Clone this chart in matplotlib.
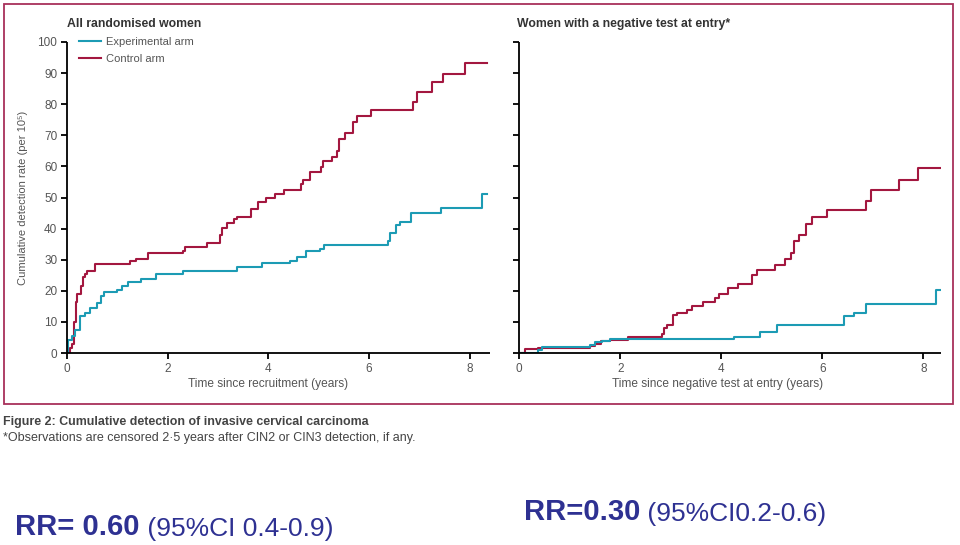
import matplotlib
matplotlib.use('Agg')
import matplotlib.pyplot as plt
from matplotlib.patches import Rectangle

plt.rcParams['font.family'] = ['Liberation Sans', 'DejaVu Sans']

# colours
EXP_COLOR = '#1c9bb4'
CTRL_COLOR = '#a3173f'
BORDER_COLOR = '#a8305a'
TEXT_GRAY = '#555555'
RR_COLOR = '#2e3192'

# ---- data (years, cumulative detection per 10^5) ----
# left panel: all randomised women
all_ctrl_t = [0, 0.06, 0.09, 0.13, 0.17, 0.20, 0.28, 0.32, 0.35, 0.39, 0.56, 1.25, 1.37,
              1.60, 2.31, 2.34, 2.79, 3.04, 3.08, 3.18, 3.31, 3.38, 3.66, 3.80, 3.96, 4.13,
              4.31, 4.64, 4.68, 4.82, 5.05, 5.08, 5.27, 5.36, 5.40, 5.52, 5.68, 5.75, 6.03,
              6.87, 6.95, 7.24, 7.47, 7.90, 8.35]
all_ctrl_v = [0, 1.5, 3, 10, 16.5, 19, 21.5, 24.5, 25.5, 26.5, 28.5, 29.6, 30.2,
              32.0, 32.9, 34.2, 35.3, 37.9, 40.1, 41.7, 43.1, 43.6, 46.2, 48.6, 49.7, 51.1,
              52.4, 54.2, 55.6, 58.1, 59.9, 61.8, 63.1, 65.0, 68.7, 70.6, 74.4, 76.3, 78.1,
              80.8, 83.8, 87.0, 89.6, 93.3, 93.3]
all_exp_t = [0, 0.01, 0.09, 0.15, 0.25, 0.36, 0.46, 0.59, 0.67, 0.74, 0.99, 1.10, 1.22,
             1.47, 1.77, 2.30, 3.38, 3.88, 4.42, 4.56, 4.74, 5.02, 5.10, 6.38, 6.42, 6.54,
             6.61, 6.84, 7.43, 8.24, 8.35]
all_exp_v = [0, 4.2, 5.5, 7.4, 11.9, 13.0, 14.4, 16.0, 18.3, 19.7, 20.3, 21.5, 22.7,
             23.8, 25.3, 26.5, 27.8, 29.0, 29.7, 31.0, 32.9, 33.5, 34.7, 36.0, 38.5, 41.2,
             42.2, 44.9, 46.7, 51.1, 51.1]

# right panel: women with a negative test at entry
neg_ctrl_t = [0, 0.11, 0.38, 1.40, 1.50, 1.61, 1.80, 2.16, 2.82, 2.87, 2.93, 3.05, 3.12,
              3.33, 3.41, 3.63, 3.88, 3.96, 4.14, 4.34, 4.60, 4.71, 5.06, 5.26, 5.37, 5.43,
              5.54, 5.68, 5.79, 6.09, 6.87, 6.96, 7.51, 7.90, 8.34]
neg_ctrl_v = [0, 1.3, 1.5, 2.1, 3.0, 3.7, 4.3, 5.3, 6.0, 8.0, 9.1, 12.3, 12.9,
              13.9, 15.2, 16.5, 17.7, 19.1, 20.9, 22.3, 25.2, 26.6, 28.4, 30.2, 32.3, 35.9,
              38.0, 41.6, 43.7, 46.1, 49.0, 52.3, 55.5, 59.5, 59.5]
neg_exp_t = [0, 0.38, 0.44, 1.40, 1.50, 1.63, 1.80, 4.25, 4.77, 5.11, 6.43, 6.63, 6.86, 8.25, 8.34]
neg_exp_v = [0, 1.1, 2.0, 2.7, 3.4, 4.0, 4.5, 5.1, 6.9, 9.1, 11.8, 12.9, 15.9, 20.4, 20.4]

x_ticks = [0, 2, 4, 6, 8]
y_ticks = [0, 10, 20, 30, 40, 50, 60, 70, 80, 90, 100]

W, H = 960, 545
fig = plt.figure(figsize=(9.6, 5.45), dpi=100)


def px_axes(x0, x1, y_top, y_bot):
    return fig.add_axes([x0 / W, 1 - y_bot / H, (x1 - x0) / W, (y_bot - y_top) / H])


def style_axes(ax, xmax, show_ylabels):
    ax.set_xlim(0, xmax)
    ax.set_ylim(0, 100)
    ax.set_xticks(x_ticks)
    ax.set_yticks(y_ticks)
    if not show_ylabels:
        ax.set_yticklabels([])
    for side in ('top', 'right'):
        ax.spines[side].set_visible(False)
    for side in ('left', 'bottom'):
        ax.spines[side].set_linewidth(1.3)
        ax.spines[side].set_capstyle('butt')
    ax.tick_params(axis='both', direction='out', length=4.5, width=1.3,
                   labelsize=8.5, labelcolor=TEXT_GRAY, pad=2.5)


ax1 = px_axes(67, 490, 42, 353)
ax2 = px_axes(519.3, 941, 42, 353)

ax1.step(all_ctrl_t, all_ctrl_v, where='post', color=CTRL_COLOR, lw=1.5, label='Control arm')
ax1.step(all_exp_t, all_exp_v, where='post', color=EXP_COLOR, lw=1.5, label='Experimental arm')
ax2.step(neg_ctrl_t, neg_ctrl_v, where='post', color=CTRL_COLOR, lw=1.5)
ax2.step(neg_exp_t, neg_exp_v, where='post', color=EXP_COLOR, lw=1.5)

style_axes(ax1, 8.4, True)
style_axes(ax2, 8.35, False)

# legend (experimental listed first)
h, l = ax1.get_legend_handles_labels()
leg = ax1.legend(h[::-1], l[::-1], loc='upper left', bbox_to_anchor=(0.028, 1.017),
                 frameon=False, fontsize=8, handlelength=2.0, handletextpad=0.45,
                 labelspacing=0.68, borderpad=0, borderaxespad=0)
for t in leg.get_texts():
    t.set_color(TEXT_GRAY)

# titles
ax1.text(0, 1.058, 'All randomised women', transform=ax1.transAxes, fontsize=8.8,
         fontweight='bold', color='#333333', va='center', ha='left')
ax2.text(-0.005, 1.058, 'Women with a negative test at entry*', transform=ax2.transAxes,
         fontsize=8.8, fontweight='bold', color='#333333', va='center', ha='left')

# axis labels
ax1.set_ylabel('Cumulative detection rate (per 10⁵)', fontsize=8, color=TEXT_GRAY)
ax1.yaxis.set_label_coords(-0.092, 0.5)
ax1.set_xlabel('Time since recruitment (years)', fontsize=8.6, color=TEXT_GRAY)
ax1.xaxis.set_label_coords(0.475, -0.08)
ax2.set_xlabel('Time since negative test at entry (years)', fontsize=8.6, color=TEXT_GRAY)
ax2.xaxis.set_label_coords(0.471, -0.08)

# frame around the figure panel
fig.patches.append(Rectangle((4 / W, 1 - 404 / H), 949 / W, 400 / H, transform=fig.transFigure,
                             fill=False, edgecolor=BORDER_COLOR, linewidth=1.3))

# caption
fig.text(3 / W, 1 - 422 / H, 'Figure 2: Cumulative detection of invasive cervical carcinoma',
         fontsize=8.9, fontweight='bold', color='#444444', va='center', ha='left')
fig.text(3 / W, 1 - 438 / H,
         '*Observations are censored 2·5 years after CIN2 or CIN3 detection, if any.',
         fontsize=9, color='#444444', va='center', ha='left')

# relative risks
narrow = ['Liberation Sans Narrow', 'Liberation Sans', 'DejaVu Sans']
rr1 = fig.text(15 / W, 1 - 524 / H, 'RR= 0.60', fontsize=21, fontweight='bold',
               color=RR_COLOR, family=narrow, va='center_baseline', ha='left')
ax1.annotate(' (95%CI 0.4-0.9)', xy=(1, 0), xycoords=rr1, xytext=(0, 0),
             textcoords='offset points', fontsize=19, color=RR_COLOR, family=narrow,
             va='bottom', ha='left', annotation_clip=False)
rr2 = fig.text(524 / W, 1 - 509 / H, 'RR=0.30', fontsize=21, fontweight='bold',
               color=RR_COLOR, family=narrow, va='center_baseline', ha='left')
ax2.annotate(' (95%CI0.2-0.6)', xy=(1, 0), xycoords=rr2, xytext=(0, 0),
             textcoords='offset points', fontsize=19, color=RR_COLOR, family=narrow,
             va='bottom', ha='left', annotation_clip=False)

fig.savefig('out.png', dpi=100)
